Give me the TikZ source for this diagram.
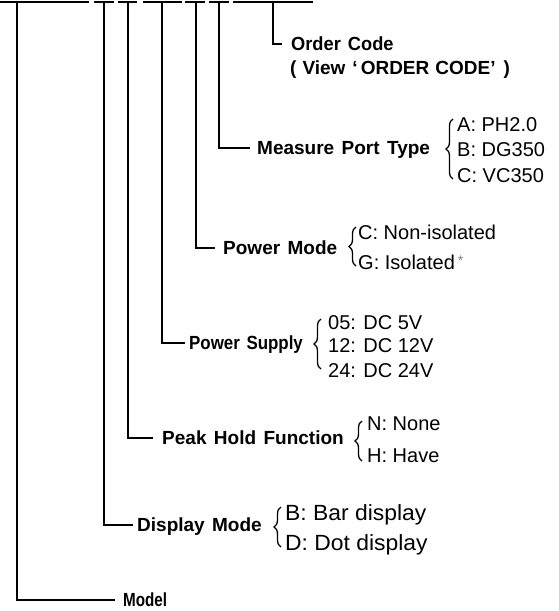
\documentclass[tikz,border=0pt]{standalone}
\usepackage{fontspec}
\usepackage{graphicx}
\setmainfont{Liberation Sans}
\newfontfamily\lblfont{Liberation Sans}[WordSpace=1.4]
\usetikzlibrary{decorations.pathreplacing}
\begin{document}
\begin{tikzpicture}[x=1pt,y=-1pt,
  lbl/.style={anchor=west, inner sep=0pt, font=\lblfont\bfseries\fontsize{19}{19}\selectfont, text height=13.6pt, text depth=0pt},
  opt/.style={anchor=west, inner sep=0pt, font=\fontsize{20}{20}\selectfont, text height=14.3pt, text depth=0pt},
  bigopt/.style={opt, font=\fontsize{22}{22}\selectfont, text height=15.7pt},
  wire/.style={line width=1.1pt},
  topline/.style={line width=1.4pt},
  brc/.style={decorate, decoration={brace, amplitude=7pt}, line width=1.3pt}]
\useasboundingbox (0,0) rectangle (559,611);
% top segmented line
\draw[topline] (0,2) -- (89,2);
\draw[topline] (94,2) -- (114,2);
\draw[topline] (118,2) -- (137,2);
\draw[topline] (143,2) -- (182,2);
\draw[topline] (185,2) -- (205,2);
\draw[topline] (209,2) -- (229,2);
\draw[topline] (233,2) -- (313,2);
% start points of connectors
\coordinate (tModel) at (17,2);
\coordinate (tDisp) at (104,2);
\coordinate (tPeak) at (128,2);
\coordinate (tSupply) at (162,2);
\coordinate (tPMode) at (196,2);
\coordinate (tPort) at (219,2);
\coordinate (tOrder) at (273,2);
% labels
\node[lbl] (order) at (291,44) {\scalebox{0.96}[1]{Order Code}};
\node[lbl] (orderv) at (290,68) {(\hspace{6pt}View\hspace{7pt}‘\hspace{3pt}ORDER\hspace{6pt}CODE’\hspace{8pt})};
\node[lbl] (port) at (257,148) {Measure Port Type};
\node[opt] (portA) at (457,124) {A: PH2.0};
\node[opt] (portB) at (457,149) {B: DG350};
\node[opt] (portC) at (457,175) {C: VC350};
\node[lbl] (pmode) at (223,248) {Power Mode};
\node[opt] (pmodeC) at (358,232) {C: Non-isolated};
\node[opt] (pmodeG) at (358,262) {G: Isolated\hspace{3pt}\raisebox{4pt}{\textcolor{gray}{\fontsize{14}{14}\selectfont *}}};
\node[lbl] (supply) at (189,343) {\scalebox{0.89}[1]{Power Supply}};
\node[opt] (sup05) at (328,322) {05: DC 5V};
\node[opt] (sup12) at (328,345) {12: DC 12V};
\node[opt] (sup24) at (328,370) {24: DC 24V};
\node[lbl] (peak) at (162,438) {Peak Hold Function};
\node[opt] (peakN) at (367,423) {N: None};
\node[opt] (peakH) at (367,455) {H: Have};
\node[lbl] (disp) at (137,525) {Display Mode};
\node[bigopt] (dispB) at (285,513) {\scalebox{1.04}[1]{B: Bar display}};
\node[bigopt] (dispD) at (285,543) {\scalebox{1.04}[1]{D: Dot display}};
\node[lbl] (model) at (123,600) {\scalebox{0.8}[1]{Model}};
% connectors
\draw[wire, shorten >=9pt] (tOrder) |- (order.west);
\draw[wire, shorten >=7pt] (tPort) |- (port.west);
\draw[wire, shorten >=8pt] (tPMode) |- (pmode.west);
\draw[wire, shorten >=4pt] (tSupply) |- (supply.west);
\draw[wire, shorten >=9pt] (tPeak) |- (peak.west);
\draw[wire, shorten >=4pt] (tDisp) |- (disp.west);
\draw[wire, shorten >=8pt] (tModel) |- (model.west);
% braces
\draw[brc] (453,179) -- (453,119);
\draw[brc] (356,266) -- (356,227);
\draw[brc] (321,369) -- (321,319);
\draw[brc] (362,461) -- (362,421);
\draw[brc] (281,547) -- (281,507);
\end{tikzpicture}
\end{document}
